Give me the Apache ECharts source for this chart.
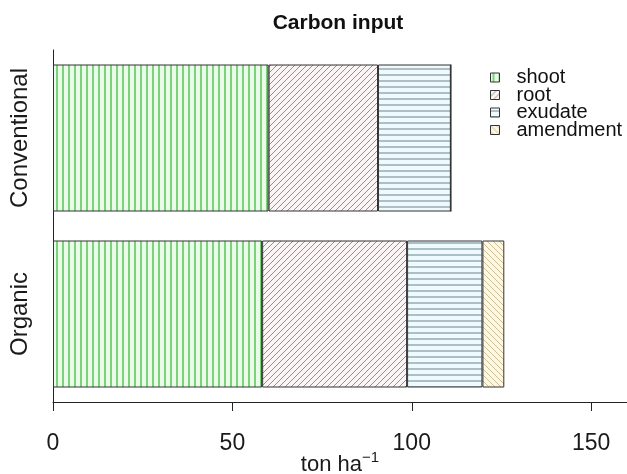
<!DOCTYPE html>
<html>
<head>
<meta charset="utf-8">
<script src="https://cdn.jsdelivr.net/npm/echarts@6/dist/echarts.min.js"></script>
<style>
html,body{margin:0;padding:0;background:#fff;}
#chart{width:627px;height:474px;}
</style>
</head>
<body>
<div id="chart"></div>
<script>
// ---- data ----
const categories = ['Organic', 'Conventional'];
const seriesNames = ['shoot', 'root', 'exudate', 'amendment'];
const shoot = [58.3, 60.1];
const root = [40.4, 30.5];
const exudate = [21.0, 20.3];
const amendment = [6.1, 0];
const xTicks = [0, 50, 100, 150];

// ---- pattern fills ----
function makePattern(bg, fg, type, size, lw) {
  const c = document.createElement('canvas');
  c.width = size; c.height = size;
  const ctx = c.getContext('2d');
  ctx.fillStyle = bg; ctx.fillRect(0, 0, size, size);
  ctx.strokeStyle = fg; ctx.lineWidth = lw;
  ctx.beginPath();
  if (type === 'v') { ctx.moveTo(size / 2, 0); ctx.lineTo(size / 2, size); }
  else if (type === 'h') { ctx.moveTo(0, size / 2); ctx.lineTo(size, size / 2); }
  else if (type === 'd1') {
    ctx.moveTo(0, size); ctx.lineTo(size, 0);
    ctx.moveTo(-1, 1); ctx.lineTo(1, -1);
    ctx.moveTo(size - 1, size + 1); ctx.lineTo(size + 1, size - 1);
  } else {
    ctx.moveTo(0, 0); ctx.lineTo(size, size);
    ctx.moveTo(-1, size - 1); ctx.lineTo(1, size + 1);
    ctx.moveTo(size - 1, -1); ctx.lineTo(size + 1, 1);
  }
  ctx.stroke();
  return { image: c, repeat: 'repeat' };
}
const fills = [
  makePattern('#eafbea', '#5fc95f', 'v', 6, 1.6),
  makePattern('#fbf5f5', '#777777', 'd1', 6, 0.8),
  makePattern('#eefafd', '#7f979f', 'h', 6, 1.2),
  makePattern('#fdf8e2', '#c4ae84', 'd2', 6, 0.8)
];
const values = [shoot, root, exudate, amendment];

const chart = echarts.init(document.getElementById('chart'), null, { renderer: 'canvas' });
const FONT = '"Liberation Sans", Arial, sans-serif';
const option = {
  animation: false,
  backgroundColor: '#ffffff',
  title: {
    text: 'Carbon input', left: 333, top: 8, textAlign: 'center',
    textStyle: { fontFamily: FONT, fontSize: 21, fontWeight: 'bold', color: '#111' }
  },
  legend: {
    orient: 'vertical', left: 485, top: 62.5,
    itemWidth: 9, itemHeight: 9, itemGap: -2.5,
    icon: 'rect',
    data: seriesNames,
    itemStyle: { borderColor: '#333', borderWidth: 1 },
    textStyle: { fontFamily: FONT, fontSize: 20, color: '#111', padding: [0, 0, 0, 12] }
  },
  grid: { left: 53, right: 0, top: 50, bottom: 72, containLabel: false, outerBoundsMode: 'none' },
  xAxis: {
    type: 'value', min: 0, max: 160, interval: 50,
    axisLine: { show: true, lineStyle: { color: '#222', width: 1 } },
    axisTick: { show: true, length: 9, lineStyle: { color: '#222' }, customValues: xTicks },
    splitLine: { show: false },
    axisLabel: {
      margin: 30, fontFamily: FONT, fontSize: 23, color: '#1a1a1a',
      customValues: xTicks
    },
    name: '{a|ton ha}{b|−1}',
    nameLocation: 'middle', nameGap: 63, nameMoveOverlap: false,
    nameTextStyle: {
      verticalAlign: 'middle',
      rich: {
        a: { fontFamily: FONT, fontSize: 22, color: '#1a1a1a' },
        b: { fontFamily: FONT, fontSize: 15, color: '#1a1a1a', padding: [0, 0, 14, 0] }
      }
    }
  },
  yAxis: {
    type: 'category', data: categories,
    axisLine: { show: true, lineStyle: { color: '#222', width: 1 } },
    axisTick: { show: false },
    axisLabel: { rotate: 90, interval: 0, margin: 21, fontFamily: FONT, fontSize: 24, color: '#1a1a1a' }
  },
  series: seriesNames.map((n, i) => ({
    name: n, type: 'bar', stack: 'total', barWidth: 147,
    itemStyle: { color: fills[i], borderColor: '#333', borderWidth: 1 },
    data: values[i]
  }))
};
chart.setOption(option);
</script>
</body>
</html>
